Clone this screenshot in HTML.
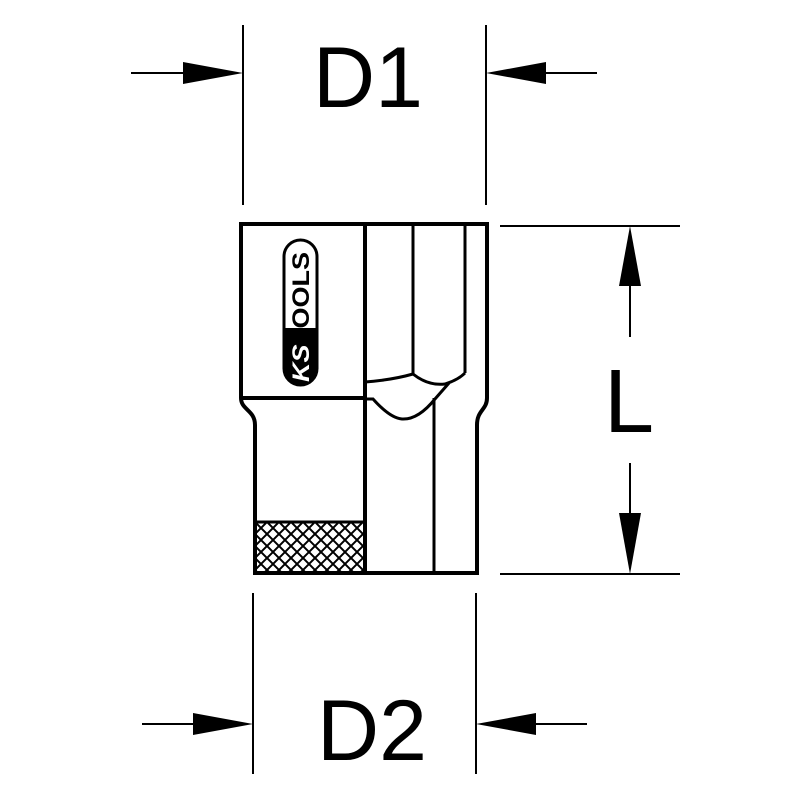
<!DOCTYPE html>
<html><head><style>html,body{margin:0;padding:0;background:#fff}svg{display:block}</style></head>
<body>
<svg width="800" height="800" viewBox="0 0 800 800" xmlns="http://www.w3.org/2000/svg">
<defs>
<pattern id="kn" width="12" height="12" patternUnits="userSpaceOnUse" x="255" y="522">
<path d="M0 0L12 12M12 0L0 12" stroke="#000" stroke-width="2"/>
</pattern>
</defs>
<g stroke="#000" fill="none">
<line x1="243" y1="25" x2="243" y2="205" stroke-width="2"/>
<line x1="486" y1="25" x2="486" y2="205" stroke-width="2"/>
<line x1="131" y1="73" x2="185" y2="73" stroke-width="2"/>
<line x1="545" y1="73" x2="597" y2="73" stroke-width="2"/>
<line x1="253" y1="593" x2="253" y2="774" stroke-width="2"/>
<line x1="476" y1="593" x2="476" y2="774" stroke-width="2"/>
<line x1="142" y1="724" x2="195" y2="724" stroke-width="2"/>
<line x1="534" y1="724" x2="587" y2="724" stroke-width="2"/>
<line x1="500" y1="226" x2="680" y2="226" stroke-width="2"/>
<line x1="500" y1="574" x2="680" y2="574" stroke-width="2"/>
<line x1="630" y1="280" x2="630" y2="337" stroke-width="2"/>
<line x1="630" y1="463" x2="630" y2="520" stroke-width="2"/>
<path d="M241 224 H487 V398 C487 410 477 410 477 425 V573 H255 V425 C255 410 241 410 241 398 Z" stroke-width="4"/>
<line x1="241" y1="398" x2="366" y2="398" stroke-width="4"/>
<line x1="365" y1="224" x2="365" y2="573" stroke-width="4"/>
<line x1="413" y1="224" x2="413" y2="374" stroke-width="3"/>
<line x1="465" y1="224" x2="465" y2="373" stroke-width="3"/>
<line x1="434" y1="398" x2="434" y2="573" stroke-width="3"/>
<path d="M365 382 Q392 380 413 374 Q428 386 445 384 Q458 380 465 373" stroke-width="3"/>
<path d="M365 399 H373 Q390 418 402 419 Q418 420 435 399 L449 383" stroke-width="3"/>
<line x1="255" y1="522" x2="365" y2="522" stroke-width="3"/>
</g>
<rect x="256" y="523" width="108" height="49" fill="url(#kn)"/>
<g fill="#000">
<polygon points="183,62 243,73 183,84"/>
<polygon points="546,62 486,73 546,84"/>
<polygon points="193,713 253,724 193,735"/>
<polygon points="536,713 476,724 536,735"/>
<polygon points="619,286 630,226 641,286"/>
<polygon points="619,513 630,574 641,513"/>
</g>
<rect x="284" y="240" width="33" height="145" rx="16.5" fill="#fff" stroke="#000" stroke-width="3"/>
<path d="M284 328 H317 V368.5 A16.5 16.5 0 0 1 284 368.5 Z" fill="#000"/>
<text transform="translate(309,382) rotate(-90)" font-family="Liberation Sans, sans-serif" font-weight="bold" font-size="24" fill="#000" textLength="130" lengthAdjust="spacingAndGlyphs"><tspan fill="#fff" font-style="italic">KS</tspan>TOOLS</text>
<g font-family="Liberation Sans, sans-serif" fill="#000" text-anchor="middle">
<text x="368" y="107" font-size="86">D1</text>
<text x="372" y="760" font-size="86">D2</text>
<text x="629" y="432" font-size="90">L</text>
</g>
</svg>
</body></html>
